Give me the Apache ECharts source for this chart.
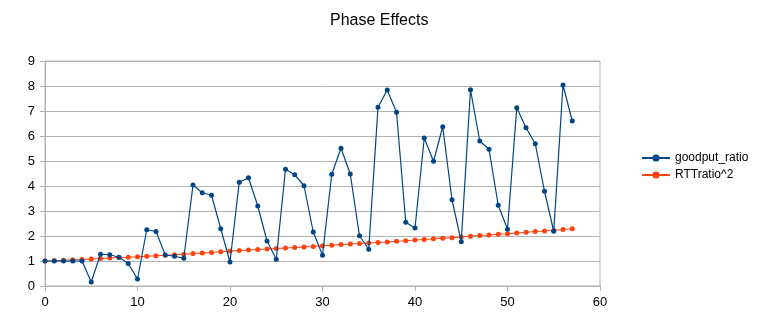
<!DOCTYPE html>
<html>
<head>
<meta charset="utf-8">
<script src="https://cdn.jsdelivr.net/npm/echarts@6/dist/echarts.min.js"></script>
<style>
  html, body { margin: 0; padding: 0; background: #fff; }
  #chart { width: 757px; height: 330px; }
</style>
</head>
<body>
<div id="chart"></div>
<script>
// x positions 0..57
const xs = [0, 1, 2, 3, 4, 5, 6, 7, 8, 9, 10, 11, 12, 13, 14, 15, 16, 17, 18, 19,
  20, 21, 22, 23, 24, 25, 26, 27, 28, 29, 30, 31, 32, 33, 34, 35, 36, 37, 38, 39,
  40, 41, 42, 43, 44, 45, 46, 47, 48, 49, 50, 51, 52, 53, 54, 55, 56, 57]

const goodputRatio = [1.0, 1.0, 1.0, 1.0, 1.0, 0.16, 1.27, 1.25, 1.15, 0.9, 0.28, 2.25, 2.18, 1.24, 1.19, 1.11,
  4.04, 3.73, 3.63, 2.29, 0.96, 4.15, 4.33, 3.2, 1.8, 1.07, 4.67, 4.45, 4.01, 2.16, 1.23,
  4.47, 5.51, 4.48, 2.01, 1.47, 7.15, 7.84, 6.95, 2.55, 2.32, 5.92, 4.99, 6.37, 3.45, 1.77,
  7.85, 5.8, 5.47, 3.23, 2.27, 7.13, 6.33, 5.69, 3.79, 2.19, 8.04, 6.6]

const rttRatioSq = [1.0, 1.01, 1.03, 1.05, 1.06, 1.08, 1.1, 1.12, 1.14, 1.15, 1.17, 1.19, 1.21, 1.23, 1.25, 1.27,
  1.3, 1.32, 1.34, 1.37, 1.4, 1.42, 1.44, 1.46, 1.48, 1.5, 1.52, 1.54, 1.56, 1.58, 1.61,
  1.63, 1.66, 1.68, 1.7, 1.72, 1.74, 1.76, 1.79, 1.81, 1.84, 1.86, 1.89, 1.91, 1.93, 1.96,
  1.99, 2.02, 2.04, 2.07, 2.09, 2.12, 2.15, 2.18, 2.2, 2.23, 2.26, 2.29]

const seriesNames = ['goodput_ratio', 'RTTratio^2']
const seriesColors = ['#004586', '#ff420e']

const pairs = (ys) => xs.map((x, i) => [x, ys[i]])

const chart = echarts.init(document.getElementById('chart'))
const font = 'Liberation Sans'
const gridGray = '#b3b3b3'

chart.setOption({
  animation: false,
  textStyle: { fontFamily: font },
  title: {
    text: 'Phase Effects',
    top: 8,
    left: 325,
    textStyle: { fontFamily: font, fontSize: 16, fontWeight: 'normal', color: '#000' }
  },
  legend: {
    orient: 'vertical',
    left: 636,
    top: 147,
    itemWidth: 28,
    itemHeight: 9,
    itemGap: 5,
    textStyle: { fontFamily: font, fontSize: 12, color: '#000' },
    data: seriesNames
  },
  grid: {
    left: 45,
    right: 157,
    top: 61,
    bottom: 44,
    show: true,
    borderColor: gridGray,
    borderWidth: 1
  },
  xAxis: {
    type: 'value',
    min: 0,
    max: 60,
    interval: 10,
    axisLine: { show: true, onZero: false, lineStyle: { color: gridGray } },
    axisTick: { show: true, length: 5, lineStyle: { color: gridGray } },
    splitLine: { show: false },
    axisLabel: { color: '#000', fontSize: 13, margin: 10 }
  },
  yAxis: {
    type: 'value',
    min: 0,
    max: 9,
    interval: 1,
    axisLine: { show: true, lineStyle: { color: gridGray } },
    axisTick: { show: true, length: 5, lineStyle: { color: gridGray } },
    splitLine: { show: true, lineStyle: { color: gridGray } },
    axisLabel: { color: '#000', fontSize: 13, margin: 10 }
  },
  series: [
    {
      name: seriesNames[0],
      type: 'line',
      data: pairs(goodputRatio),
      symbol: 'circle',
      symbolSize: 5,
      color: seriesColors[0],
      lineStyle: { width: 1.2, color: seriesColors[0] },
      itemStyle: { color: seriesColors[0] },
      z: 3
    },
    {
      name: seriesNames[1],
      type: 'line',
      data: pairs(rttRatioSq),
      symbol: 'circle',
      symbolSize: 5,
      color: seriesColors[1],
      lineStyle: { width: 1.2, color: seriesColors[1] },
      itemStyle: { color: seriesColors[1] },
      z: 2
    }
  ]
})
</script>
</body>
</html>
